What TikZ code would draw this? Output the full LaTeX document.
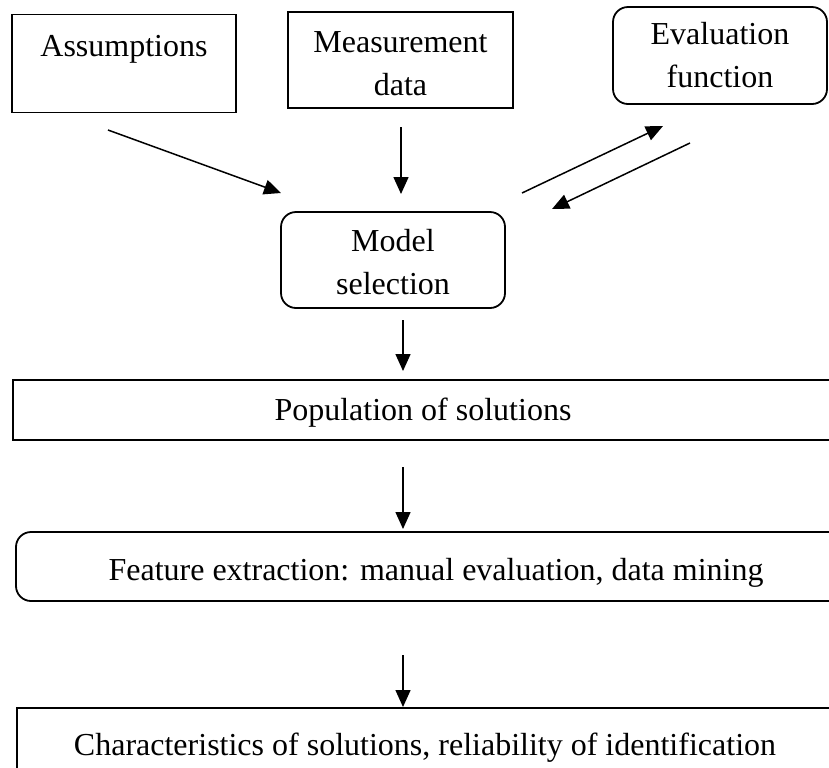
\documentclass[tikz,border=0pt]{standalone}
\usepackage{fontspec}
\setmainfont{Liberation Serif}
\usetikzlibrary{arrows.meta}
\begin{document}
\begin{tikzpicture}[x=0.5pt,y=-0.5pt,
  font=\fontsize{16}{21.5}\selectfont,
  boxstyle/.style={draw, line width=0.9pt, inner sep=0pt, align=center},
  roundbox/.style={boxstyle, rounded corners=7.5pt},
  conn/.style={line width=0.75pt, -{Triangle[length=8.5pt,width=7.5pt]}}]
\useasboundingbox (0,0) rectangle (829,767);
\node[boxstyle, minimum width=112pt, minimum height=48.5pt] (assump) at (124,63.5) {\rule{0pt}{21pt}Assumptions\\\strut};
\node[boxstyle, minimum width=112.5pt, minimum height=48pt] (meas) at (400.5,60) {\rule{0pt}{14pt}Measurement\\data};
\node[roundbox, minimum width=107pt, minimum height=48.5pt] (evalf) at (720,55.5) {Evaluation\\function};
\node[roundbox, minimum width=112pt, minimum height=48pt] (model) at (393,260) {\rule{0pt}{13pt}Model\\selection};
\node[boxstyle, minimum width=410pt, minimum height=30pt] (pop) at (423,410) {\rule{0pt}{14pt}Population of solutions};
\node[roundbox, minimum width=420pt, minimum height=34.5pt] (feat) at (436,566.5) {\rule{0pt}{17pt}Feature extraction: manual evaluation, data mining};
\node[boxstyle, minimum width=408pt, minimum height=35.5pt] (chr) at (425,743.5) {\rule{0pt}{15pt}Characteristics of solutions, reliability of identification};
\coordinate (a1s) at (108,130); \coordinate (a1e) at (281,193);
\coordinate (a2s) at (401,127); \coordinate (a2e) at (401,194);
\coordinate (a3s) at (522,193); \coordinate (a3e) at (663,126);
\coordinate (a4s) at (690,143); \coordinate (a4e) at (552,209);
\coordinate (a5s) at (403,320); \coordinate (a5e) at (403,371);
\coordinate (a6s) at (403,467); \coordinate (a6e) at (403,529);
\coordinate (a7s) at (403,655); \coordinate (a7e) at (403,707);
\draw[conn] (a1s) -- (a1e);
\draw[conn] (a2s) -- (a2e);
\draw[conn] (a3s) -- (a3e);
\draw[conn] (a4s) -- (a4e);
\draw[conn] (a5s) -- (a5e);
\draw[conn] (a6s) -- (a6e);
\draw[conn] (a7s) -- (a7e);
\end{tikzpicture}
\end{document}
